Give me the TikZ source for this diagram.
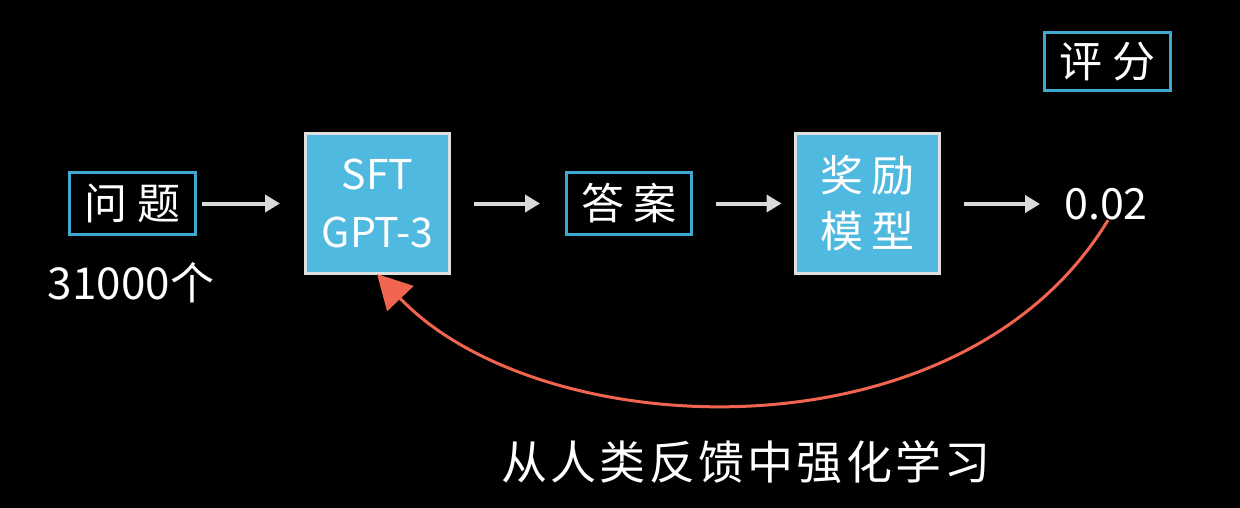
\documentclass[tikz,border=0pt]{standalone}
\usepackage{fontspec}
\setmainfont{Noto Sans CJK SC}
\usetikzlibrary{arrows.meta}
\definecolor{bluebd}{HTML}{3FA8D0}
\definecolor{bluefill}{HTML}{4FB9DF}
\definecolor{arrgray}{HTML}{D9D9D9}
\definecolor{redc}{HTML}{F06450}
\tikzset{
  outbox/.style={draw=bluebd, line width=3pt, fill=black, text=white, inner sep=0pt, align=center},
  modelbox/.style={draw=white!88!black, line width=3pt, fill=bluefill, text=white, inner sep=0pt, align=center, minimum width=144pt, minimum height=140pt},
  plain/.style={text=white, inner sep=0pt},
  flow/.style={draw=arrgray, line width=4pt, -{Triangle[length=15pt,width=17pt]}},
  feedback/.style={draw=redc, line width=3pt, -{Triangle[length=34pt,width=36pt]}}
}
\begin{document}
\begin{tikzpicture}[x=1pt,y=-1pt]
\fill[black] (0,0) rectangle (1240,508);
\useasboundingbox (0,0) rectangle (1240,508);
\node[outbox, minimum width=126pt, minimum height=62pt, font=\fontsize{43}{45}\selectfont] (q) at (132.5,203.5) {问\hspace{10pt}题};
\node[modelbox, font=\fontsize{41}{58}\selectfont] (sft) at (377.5,203.5) {SFT\\GPT-3};
\node[outbox, minimum width=125pt, minimum height=62pt, font=\fontsize{43}{45}\selectfont] (ans) at (629,203.5) {答\hspace{10pt}案};
\node[modelbox, font=\fontsize{43}{56}\selectfont] (rm) at (867,203.5) {奖\hspace{8pt}励\\模\hspace{8pt}型};
\node[plain, font=\fontsize{43}{45}\selectfont] (val) at (1106,204) {0.02};
\node[outbox, minimum width=126pt, minimum height=58pt, font=\fontsize{43}{45}\selectfont] (score) at (1107.5,61.5) {评\hspace{10pt}分};
\node[plain, font=\fontsize{44}{46}\selectfont] (cnt) at (131,283) {31000个};
\node[plain, font=\fontsize{46}{48}\selectfont\addfontfeatures{LetterSpace=7}] (rlhf) at (746,462) {从人类反馈中强化学习};
\draw[flow, shorten <=5pt, shorten >=24pt] (q.east) -- (sft.west |- q.east);
\draw[flow, shorten <=23pt, shorten >=25pt] (sft.east |- ans.west) -- (ans.west);
\draw[flow, shorten <=23pt, shorten >=12pt] (ans.east) -- (rm.west |- ans.east);
\draw[flow, shorten <=23pt, shorten >=24pt] (rm.east |- val.west) -- (val.west);
\coordinate (tip) at (377,274);
\draw[feedback] (val.south) ++(2pt,0) .. controls (960,465) and (540,445) .. (tip);
\end{tikzpicture}
\end{document}
